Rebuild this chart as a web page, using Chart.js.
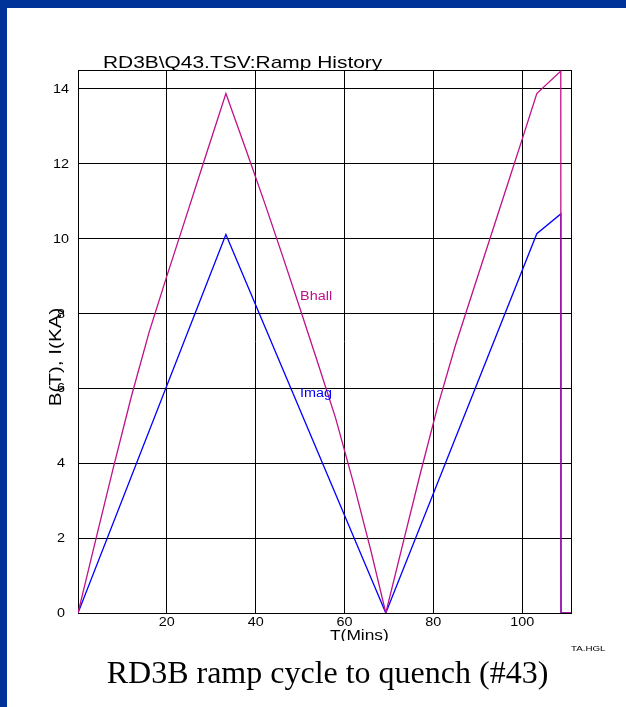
<!DOCTYPE html>
<html>
<head>
<meta charset="utf-8">
<script src="https://cdn.jsdelivr.net/npm/chart.js@4/dist/chart.umd.min.js"></script>
<style>
  html, body { margin: 0; padding: 0; background: #fff; overflow: hidden; }
  canvas { display: block; }
</style>
</head>
<body>
<canvas id="c" width="626" height="707"></canvas>
<script>
// RD3B ramp history, quench #43 (time in minutes)
const imagTime  = [0, 33.3, 69.3, 103.3, 108.7, 108.75, 111];
const imagKA    = [0, 10.1, 0, 10.12, 10.65, 0, 0];

const bhallTime = [0, 4, 8, 12, 16, 20, 24, 28, 33.3,
                   38, 42, 46, 50, 54, 58, 62, 66, 69.3,
                   73, 77, 81, 85, 89, 93, 97, 100, 103.3,
                   108.7, 108.75, 111];
const bhallT    = [0, 1.96, 3.9, 5.77, 7.49, 8.99, 10.45, 11.92, 13.86,
                   12.3, 10.95, 9.55, 8.12, 6.67, 5.2, 3.48, 1.64, 0,
                   1.78, 3.69, 5.52, 7.15, 8.62, 10.08, 11.54, 12.64, 13.86,
                   14.46, 0, 0];

const xTicks = [20, 40, 60, 80, 100];
const yTicks = [0, 2, 4, 6, 8, 10, 12, 14];

// curve labels placed in data coordinates
const curveLabels = [
  { text: 'Bhall', x: 50, y: 8.48, color: '#c0108a' },
  { text: 'Imag',  x: 50, y: 5.87, color: '#0000ff' }
];

const SANS = '"Liberation Sans", Arial, Helvetica, sans-serif';
const SERIF = '"Liberation Serif", "Times New Roman", serif';

// text with a horizontal stretch factor sx along the baseline
function drawText(ctx, text, x, y, size, sx, align, color, rot, family) {
  ctx.save();
  ctx.translate(x, y);
  if (rot) ctx.rotate(rot);
  ctx.scale(sx, 1);
  ctx.font = size + 'px ' + (family || SANS);
  ctx.textAlign = align;
  ctx.textBaseline = 'alphabetic';
  ctx.fillStyle = color || '#000';
  ctx.fillText(text, 0, 0);
  ctx.restore();
}

const pagePlugin = {
  id: 'page',
  beforeDraw(chart) {
    const ctx = chart.ctx;
    ctx.save();
    ctx.fillStyle = '#ffffff';
    ctx.fillRect(0, 0, chart.width, chart.height);
    ctx.fillStyle = '#003399';
    ctx.fillRect(0, 0, chart.width, 8);
    ctx.fillRect(0, 0, 7, chart.height);
    ctx.restore();
  },
  beforeDatasetsDraw(chart) {
    const { ctx, chartArea: a } = chart;
    ctx.save();
    ctx.strokeStyle = '#000';
    ctx.lineWidth = 1;
    ctx.strokeRect(Math.round(a.left) + 0.5, Math.round(a.top) + 0.5,
                   Math.round(a.right - a.left), Math.round(a.bottom - a.top));
    ctx.restore();
  },
  afterDraw(chart) {
    const ctx = chart.ctx;
    const xs = chart.scales.x, ys = chart.scales.y;
    const a = chart.chartArea;

    // tick labels
    xTicks.forEach(v => drawText(ctx, String(v), xs.getPixelForValue(v), a.bottom + 13, 12, 1.2, 'center'));
    yTicks.forEach(v => drawText(ctx, String(v), 61, ys.getPixelForValue(v) + 4.3, 12, 1.2, 'center'));

    // title
    drawText(ctx, 'RD3B\\Q43.TSV:Ramp History', 103, 68, 17, 1.23, 'left');

    // axis titles
    drawText(ctx, 'B(T), I(KA)', 61, 357, 16.5, 1.25, 'center', '#000', -Math.PI / 2);
    ctx.save();
    ctx.beginPath();
    ctx.rect(0, 0, chart.width, 641);
    ctx.clip();
    drawText(ctx, 'T(Mins)', 330, 640, 14, 1.24, 'left');
    ctx.restore();

    // curve labels
    curveLabels.forEach(l => drawText(ctx, l.text, xs.getPixelForValue(l.x), ys.getPixelForValue(l.y) + 4.3, 12, 1.2, 'left', l.color));

    // file tag and caption
    drawText(ctx, 'TA.HGL', 571, 651, 8, 1.22, 'left');
    drawText(ctx, 'RD3B ramp cycle to quench (#43)', 327.5, 683, 32, 1, 'center', '#000', 0, SERIF);
  }
};

const toPoints = (xs, ys) => xs.map((x, i) => ({ x: x, y: ys[i] }));

new Chart(document.getElementById('c'), {
  type: 'line',
  data: {
    datasets: [
      {
        label: 'Bhall',
        data: toPoints(bhallTime, bhallT),
        borderColor: '#c0108a',
        borderWidth: 1.3,
        pointRadius: 0,
        tension: 0,
        fill: false
      },
      {
        label: 'Imag',
        data: toPoints(imagTime, imagKA),
        borderColor: '#0000ff',
        borderWidth: 1.3,
        pointRadius: 0,
        tension: 0,
        fill: false
      }
    ]
  },
  options: {
    responsive: false,
    animation: false,
    devicePixelRatio: 1,
    layout: { padding: { left: 78, right: 55, top: 70, bottom: 94 } },
    plugins: { legend: { display: false }, title: { display: false }, tooltip: { enabled: false } },
    scales: {
      x: {
        type: 'linear',
        min: 0,
        max: 111,
        afterBuildTicks: s => { s.ticks = xTicks.map(v => ({ value: v })); },
        afterFit: s => { s.height = 0; },
        ticks: { display: false },
        grid: { color: '#000', lineWidth: 1, drawTicks: false },
        border: { display: false }
      },
      y: {
        type: 'linear',
        min: 0,
        max: 14.49,
        afterBuildTicks: s => { s.ticks = yTicks.map(v => ({ value: v })); },
        afterFit: s => { s.width = 0; },
        ticks: { display: false },
        grid: { color: '#000', lineWidth: 1, drawTicks: false },
        border: { display: false }
      }
    }
  },
  plugins: [pagePlugin]
});
</script>
</body>
</html>
